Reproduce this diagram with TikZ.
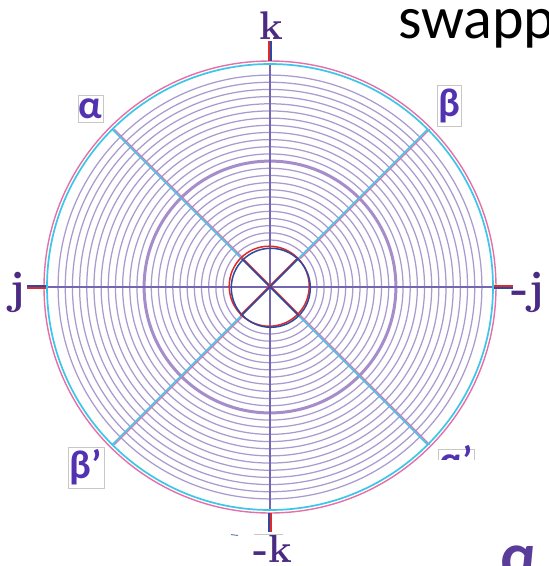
\documentclass[tikz,border=0pt]{standalone}
\usepackage{fontspec}
\newfontfamily\carl{Carlito}
\definecolor{ringc}{HTML}{AA9BCF}
\definecolor{thickc}{HTML}{A68CCA}
\definecolor{axisc}{HTML}{7666B2}
\definecolor{cyanc}{HTML}{3EC6EA}
\definecolor{pinkc}{HTML}{E271AA}
\definecolor{redc}{HTML}{E02A2A}
\definecolor{bluec}{HTML}{2D4AA3}
\definecolor{labc}{HTML}{4A2A82}
\definecolor{greekc}{HTML}{5332B2}
\definecolor{bigac}{HTML}{5A3D99}
\tikzset{
  ring/.style={ringc,line width=1.25pt},
  thickring/.style={thickc,line width=3pt},
  axisline/.style={axisc,line width=1.4pt},
  cyanline/.style={cyanc,line width=1.7pt},
  pinkline/.style={pinkc,line width=1.4pt},
  redline/.style={redc,line width=1.5pt},
  blueline/.style={bluec,line width=1.5pt},
  axlab/.style={labc,font=\bfseries\fontsize{40}{40}\selectfont,inner sep=0pt},
  jlab/.style={labc,font=\bfseries\fontsize{46}{46}\selectfont,inner sep=0pt},
  greekbox/.style={draw=black!22,line width=0.8pt,fill=white,inner sep=0pt},
  greeklab/.style={greekc,greekbox,font=\carl\bfseries\fontsize{40}{40}\selectfont},
  greektext/.style={greekc,inner sep=0pt,font=\carl\bfseries\fontsize{40}{40}\selectfont},
}
\begin{document}
\begin{tikzpicture}[x=1pt,y=-1pt]
\useasboundingbox[fill=white] (0,0) rectangle (549,566);
\coordinate (C) at (270,287);
% rings
\foreach \i in {0,...,23}{
  \pgfmathsetmacro\rr{47+\i*7.17}
  \draw[ring] (C) circle[radius=\rr];
}
\draw[thickring] (C) circle[radius=125.9];
% axes
\coordinate (W) at (47,287);
\coordinate (E) at (493,287);
\coordinate (N) at (270,64);
\coordinate (S) at (270,510);
\draw[axisline] (W) -- (E);
\draw[axisline] (N) -- (S);
% diagonals (cyan with pink shifted)
\coordinate (ULo) at (112.3,129.3); \coordinate (ULi) at (241.7,258.7);
\coordinate (URo) at (427.7,129.3); \coordinate (URi) at (298.3,258.7);
\coordinate (LLo) at (112.3,444.7); \coordinate (LLi) at (241.7,315.3);
\coordinate (LRo) at (427.7,444.7); \coordinate (LRi) at (298.3,315.3);
\foreach \a/\b in {ULo/ULi,URo/URi,LLo/LLi,LRo/LRi}{
  \draw[pinkline] ([xshift=2pt]\a) -- ([xshift=2pt]\b);
  \draw[cyanline] (\a) -- (\b);
}
% outer circles
\draw[cyanline] (C) circle[radius=223];
\draw[pinkline] (C) circle[radius=226];
% inner circle and cross
\draw[redline] ([shift={(-0.8,-0.8)}]C) circle[radius=40];
\draw[blueline] ([shift={(0.8,0.8)}]C) circle[radius=39.5];
\draw[redline] ([xshift=1.4pt]ULi) -- ([xshift=1.4pt]LRi);
\draw[blueline] (ULi) -- (LRi);
\draw[redline] ([xshift=-1.4pt]URi) -- ([xshift=-1.4pt]LLi);
\draw[blueline] (URi) -- (LLi);
% ticks
\coordinate (Nt1) at (270,41); \coordinate (Nt2) at (270,61);
\coordinate (Wt1) at (27,287); \coordinate (Wt2) at (46,287);
\coordinate (Et1) at (494,287); \coordinate (Et2) at (513,287);
\coordinate (St1) at (270,513); \coordinate (St2) at (270,532);
\draw[redline] ([xshift=-1pt]Nt1) -- ([xshift=-1pt]Nt2);
\draw[blueline] ([xshift=1pt]Nt1) -- ([xshift=1pt]Nt2);
\draw[blueline] ([yshift=1pt]Wt1) -- ([yshift=1pt]Wt2);
\draw[redline] ([yshift=-1pt]Wt1) -- ([yshift=-1pt]Wt2);
\draw[redline] ([yshift=1pt]Et1) -- ([yshift=1pt]Et2);
\draw[blueline] ([yshift=-1pt]Et1) -- ([yshift=-1pt]Et2);
\draw[blueline] ([xshift=-1pt]St1) -- ([xshift=-1pt]St2);
\draw[redline] ([xshift=1pt]St1) -- ([xshift=1pt]St2);
% axis labels
\node[axlab,anchor=base] (k) at (271,39) {k};
\node[axlab,anchor=base] (mk) at (273,562) {-k};
\node[jlab,anchor=base] (j) at (17,303) {j};
\node[jlab,anchor=base] (mj) at (528,303) {-j};
% greek labels
\node[greeklab,minimum width=25pt,minimum height=27pt] (alpha) at (90.5,108.5) {α};
\node[greeklab,minimum width=24pt,minimum height=41pt] (beta) at (449,105.5) {β};
\node[greeklab,minimum width=36pt,minimum height=41pt] (betap) at (86,467.5) {β’};
\node[greekbox,minimum width=36pt,minimum height=41pt] (alphapbox) at (456,469.5) {};
\node[greektext,anchor=base] (alphap) at (456,474) {α’};
\fill[white] (436,460) rectangle (482,495);
% fragments near -k
\draw[black!22,line width=0.8pt] (254,534) -- (283,534);
\draw[bluec!70,line width=1pt] (231,534.5) -- (238,535.5);
% title fragment and big alpha
\node[anchor=base west,inner sep=0pt,font=\carl\fontsize{60}{60}\selectfont] (title) at (398,38) {swapp};
\node[anchor=base west,inner sep=0pt,bigac,font=\carl\bfseries\fontsize{64}{64}\selectfont] (biga) at (500,577) {α};
\end{tikzpicture}
\end{document}
